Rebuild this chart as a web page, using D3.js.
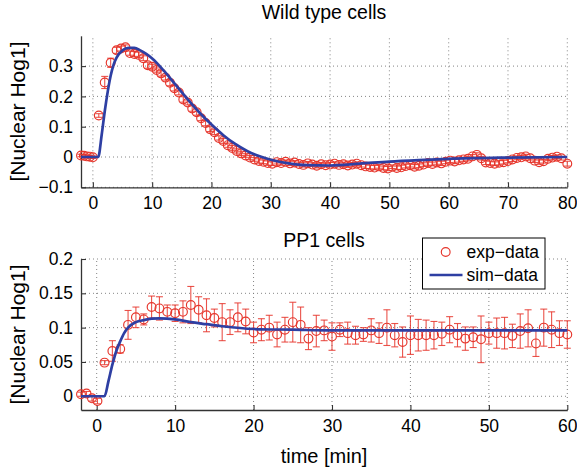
<!DOCTYPE html>
<html lang="en">
<head>
  <meta charset="UTF-8">
  <title>Nuclear Hog1</title>
  <script src="https://d3js.org/d3.v7.min.js"></script>
  <style>
    body { margin: 0; background: #fff; }
    text { font-family: "Liberation Sans", Arial, Helvetica, sans-serif; fill: #000; }
  </style>
</head>
<body>
  <div id="canvas"></div>
  <script>
    // wild type cells: experimental data (time in min)
    const wtTime = [
      -2, -1.5, -1, -0.5, 0, 1, 2, 3, 4, 4.75,
      5.5, 6.25, 7, 7.75, 8.5, 9.25, 10, 10.75, 11.5, 12.25,
      13, 13.75, 14.5, 15.25, 16, 16.75, 17.5, 18.25, 19, 19.75,
      20.5, 21.25, 22, 22.75, 23.5, 24.25, 25, 25.75, 26.5, 27.25,
      28, 28.75, 29.5, 30.25, 31, 31.75, 32.5, 33.25, 34, 34.75,
      35.5, 36.25, 37, 37.75, 38.5, 39.25, 40, 40.75, 41.5, 42.25,
      43, 43.75, 44.5, 45.25, 46, 46.75, 47.5, 48.25, 49, 49.75,
      50.5, 51.25, 52, 52.75, 53.5, 54.25, 55, 55.75, 56.5, 57.25,
      58, 58.75, 59.5, 60.25, 61, 61.75, 62.5, 63.25, 64, 64.75,
      65.5, 66.25, 67, 67.75, 68.5, 69.25, 70, 70.75, 71.5, 72.25,
      73, 73.75, 74.5, 75.25, 76, 76.75, 77.5, 78.25, 79, 80
    ];
    const wtValue = [
      0.005, 0.004, 0.002, 0.001, -0.001, 0.137, 0.246, 0.311, 0.352, 0.358,
      0.362, 0.343, 0.340, 0.337, 0.326, 0.303, 0.298, 0.287, 0.276, 0.262,
      0.245, 0.227, 0.213, 0.190, 0.180, 0.160, 0.148, 0.128, 0.112, 0.092,
      0.082, 0.063, 0.053, 0.039, 0.030, 0.020, 0.012, 0.005, -0.002, -0.008,
      -0.013, -0.016, -0.020, -0.022, -0.017, -0.020, -0.016, -0.021, -0.018, -0.023,
      -0.026, -0.021, -0.025, -0.029, -0.024, -0.027, -0.025, -0.022, -0.026, -0.024,
      -0.028, -0.025, -0.022, -0.027, -0.031, -0.033, -0.035, -0.031, -0.036, -0.038,
      -0.032, -0.036, -0.034, -0.030, -0.027, -0.032, -0.029, -0.025, -0.020, -0.023,
      -0.018, -0.021, -0.016, -0.012, -0.015, -0.011, -0.008, -0.006, 0.002, 0.007,
      -0.004, -0.018, -0.020, -0.022, -0.019, -0.017, -0.013, -0.008, -0.003, -0.001,
      0.002, -0.004, -0.012, -0.017, -0.014, -0.006, -0.002, 0.001, -0.004, -0.022
    ];
    const wtErr = [
      0.004, 0.004, 0.004, 0.004, 0.004, 0.006, 0.020, 0.015, 0.010, 0.008,
      0.008, 0.007, 0.008, 0.009, 0.008, 0.010, 0.008, 0.007, 0.009, 0.008,
      0.010, 0.009, 0.008, 0.009, 0.008, 0.009, 0.010, 0.008, 0.009, 0.008,
      0.008, 0.007, 0.008, 0.007, 0.008, 0.007, 0.007, 0.006, 0.007, 0.006,
      0.007, 0.006, 0.007, 0.006, 0.006, 0.007, 0.006, 0.007, 0.006, 0.006,
      0.007, 0.006, 0.006, 0.007, 0.006, 0.006, 0.007, 0.006, 0.006, 0.007,
      0.006, 0.007, 0.006, 0.006, 0.007, 0.006, 0.007, 0.006, 0.006, 0.007,
      0.006, 0.006, 0.007, 0.006, 0.006, 0.007, 0.006, 0.006, 0.007, 0.006,
      0.006, 0.007, 0.006, 0.006, 0.007, 0.006, 0.006, 0.007, 0.006, 0.007,
      0.006, 0.007, 0.006, 0.006, 0.007, 0.006, 0.006, 0.007, 0.006, 0.006,
      0.007, 0.006, 0.006, 0.007, 0.006, 0.006, 0.007, 0.006, 0.006, 0.008
    ];
    // wild type cells: simulation
    const wtSimTime = [-2, 0.9, 1.5, 2, 2.5, 3, 3.5, 4, 5, 6, 7, 8, 9, 10, 12, 14, 16, 18, 20, 22, 24, 26, 28, 30, 33, 36, 40, 45, 50, 55, 60, 70, 80];
    const wtSimValue = [0, 0, 0.075, 0.15, 0.215, 0.268, 0.305, 0.328, 0.352, 0.36, 0.36, 0.352, 0.34, 0.325, 0.284, 0.237, 0.19, 0.146, 0.107, 0.072, 0.043, 0.02, 0.003, -0.009, -0.021, -0.027, -0.028, -0.022, -0.015, -0.01, -0.006, -0.002, 0];

    // PP1 cells: experimental data
    const ppTime = [
      -2, -1.3, -0.6, 0.1,
      1, 2, 3, 4, 5, 6, 7, 8, 9, 10,
      11, 12, 13, 14, 15, 16, 17, 18, 19, 20,
      21, 22, 23, 24, 25, 26, 27, 28, 29, 30,
      31, 32, 33, 34, 35, 36, 37, 38, 39, 40,
      41, 42, 43, 44, 45, 46, 47, 48, 49, 50,
      51, 52, 53, 54, 55, 56, 57, 58, 59, 60
    ];
    const ppValue = [
      0.003, 0.004, -0.003, -0.007,
      0.049, 0.066, 0.069, 0.104, 0.115, 0.112, 0.130, 0.128, 0.123, 0.121,
      0.123, 0.133, 0.126, 0.118, 0.114, 0.108, 0.108, 0.115, 0.109, 0.093,
      0.097, 0.100, 0.090, 0.097, 0.108, 0.104, 0.084, 0.095, 0.096, 0.087,
      0.097, 0.092, 0.089, 0.090, 0.096, 0.092, 0.100, 0.089, 0.079, 0.089,
      0.089, 0.089, 0.089, 0.091, 0.097, 0.089, 0.084, 0.086, 0.083, 0.092,
      0.092, 0.092, 0.088, 0.095, 0.099, 0.077, 0.100, 0.097, 0.092, 0.090
    ];
    const ppErr = [
      0.003, 0.003, 0.004, 0.004,
      0.003, 0.015, 0.006, 0.021, 0.015, 0.008, 0.016, 0.017, 0.010, 0.012,
      0.016, 0.027, 0.019, 0.024, 0.013, 0.027, 0.018, 0.021, 0.018, 0.015,
      0.016, 0.018, 0.018, 0.018, 0.029, 0.026, 0.016, 0.023, 0.015, 0.020,
      0.010, 0.016, 0.013, 0.010, 0.017, 0.015, 0.026, 0.017, 0.022, 0.028,
      0.023, 0.022, 0.020, 0.017, 0.019, 0.017, 0.017, 0.015, 0.034, 0.016,
      0.022, 0.023, 0.017, 0.025, 0.027, 0.019, 0.027, 0.026, 0.018, 0.020
    ];
    // PP1 cells: simulation
    const ppSimTime = [-2, 1, 1.5, 2, 2.5, 3, 3.5, 4, 5, 6, 7, 8, 10, 12, 14, 16, 20, 25, 30, 40, 50, 60];
    const ppSimValue = [0, 0, 0.022, 0.046, 0.066, 0.08, 0.092, 0.1, 0.108, 0.111, 0.113, 0.1135, 0.112, 0.108, 0.105, 0.102, 0.098, 0.097, 0.096, 0.096, 0.096, 0.096];

    const wtXTicks = [0, 10, 20, 30, 40, 50, 60, 70, 80];
    const wtYTicks = [-0.1, 0, 0.1, 0.2, 0.3];
    const ppXTicks = [0, 10, 20, 30, 40, 50, 60];
    const ppYTicks = [0, 0.05, 0.1, 0.15, 0.2];

    const width = 577;
    const height = 472;
    const red = '#e6352b';
    const blue = '#2e3fa3';

    const svg = d3.select('#canvas')
      .append('svg')
      .attr('width', width)
      .attr('height', height);

    function fmt(v) {
      return v < 0 ? '\u2212' + d3.format('~g')(-v) : d3.format('~g')(v);
    }

    function panel(opt) {
      const x = d3.scaleLinear().domain(opt.xDomain).range([81, 567.3]);
      const y = d3.scaleLinear().domain(opt.yDomain).range([opt.bottom, opt.top]);
      const g = svg.append('g');

      // dotted grid
      g.selectAll('.gx').data(opt.xTicks).enter().append('line')
        .attr('x1', d => x(d)).attr('x2', d => x(d))
        .attr('y1', opt.bottom).attr('y2', opt.top)
        .attr('stroke', '#777').attr('stroke-width', 0.9).attr('stroke-dasharray', '1,3');
      g.selectAll('.gy').data(opt.yTicks).enter().append('line')
        .attr('x1', 81).attr('x2', 567.3)
        .attr('y1', d => y(d)).attr('y2', d => y(d))
        .attr('stroke', '#777').attr('stroke-width', 0.9).attr('stroke-dasharray', '1,3');

      // axes
      const xAxis = g.append('g')
        .attr('transform', 'translate(0,' + opt.bottom + ')')
        .call(d3.axisBottom(x).tickValues(opt.xTicks).tickSizeInner(-5).tickSizeOuter(0).tickPadding(9.5).tickFormat(fmt));
      const yAxis = g.append('g')
        .attr('transform', 'translate(81,0)')
        .call(d3.axisLeft(y).tickValues(opt.yTicks).tickSizeInner(-5).tickSizeOuter(0).tickPadding(8).tickFormat(fmt));
      [xAxis, yAxis].forEach(a => {
        a.select('.domain').attr('stroke', '#333').attr('stroke-width', 1.3);
        a.selectAll('.tick line').attr('stroke', '#333').attr('stroke-width', 1.1);
        a.selectAll('.tick text').style('font-size', '17.5px').attr('fill', '#000')
          .style('font-family', '"Liberation Sans", Arial, sans-serif');
      });

      // error bars + markers
      const pts = opt.time.map((t, i) => ({ t: t, v: opt.value[i], e: opt.err[i] }));
      const eb = g.append('g').attr('stroke', red).attr('stroke-width', 1.1).attr('stroke-opacity', 0.85);
      eb.selectAll('.bar').data(pts).enter().append('line')
        .attr('x1', d => x(d.t)).attr('x2', d => x(d.t))
        .attr('y1', d => y(d.v - d.e)).attr('y2', d => y(d.v + d.e));
      eb.selectAll('.capTop').data(pts).enter().append('line')
        .attr('x1', d => x(d.t) - 3.5).attr('x2', d => x(d.t) + 3.5)
        .attr('y1', d => y(d.v + d.e)).attr('y2', d => y(d.v + d.e));
      eb.selectAll('.capBot').data(pts).enter().append('line')
        .attr('x1', d => x(d.t) - 3.5).attr('x2', d => x(d.t) + 3.5)
        .attr('y1', d => y(d.v - d.e)).attr('y2', d => y(d.v - d.e));
      g.append('g').selectAll('circle').data(pts).enter().append('circle')
        .attr('cx', d => x(d.t)).attr('cy', d => y(d.v)).attr('r', 4.4)
        .attr('fill', 'none').attr('stroke', red).attr('stroke-width', 1.15);

      // simulation line
      const line = d3.line().x(d => x(d[0])).y(d => y(d[1])).curve(d3.curveMonotoneX);
      g.append('path')
        .datum(opt.simTime.map((t, i) => [t, opt.simValue[i]]))
        .attr('d', line)
        .attr('fill', 'none').attr('stroke', blue).attr('stroke-width', 2.7);

      // title and y label
      svg.append('text').attr('x', 324).attr('y', opt.titleY)
        .attr('text-anchor', 'middle').attr('dominant-baseline', 'central')
        .style('font-size', '19.5px').text(opt.title);
      svg.append('text')
        .attr('transform', 'translate(17,' + ((opt.top + opt.bottom) / 2) + ') rotate(-90)')
        .attr('text-anchor', 'middle').attr('dominant-baseline', 'central')
        .style('font-size', '21px').text('[Nuclear Hog1]');
    }

    panel({
      xDomain: [-2, 80], yDomain: [-0.1, 0.4], top: 35.8, bottom: 187.3,
      xTicks: wtXTicks, yTicks: wtYTicks,
      time: wtTime, value: wtValue, err: wtErr,
      simTime: wtSimTime, simValue: wtSimValue,
      title: 'Wild type cells', titleY: 12
    });
    panel({
      xDomain: [-2, 60], yDomain: [-0.02, 0.2], top: 259, bottom: 410,
      xTicks: ppXTicks, yTicks: ppYTicks,
      time: ppTime, value: ppValue, err: ppErr,
      simTime: ppSimTime, simValue: ppSimValue,
      title: 'PP1 cells', titleY: 240
    });

    svg.append('text').attr('x', 324).attr('y', 456)
      .attr('text-anchor', 'middle').attr('dominant-baseline', 'central')
      .style('font-size', '20px').text('time [min]');

    // legend
    const legend = svg.append('g').attr('id', 'legend');
    legend.append('rect')
      .attr('x', 422.5).attr('y', 238).attr('width', 122.5).attr('height', 51)
      .attr('fill', '#fff').attr('stroke', '#000').attr('stroke-width', 1);
    legend.append('circle')
      .attr('cx', 445.7).attr('cy', 252).attr('r', 4.4)
      .attr('fill', 'none').attr('stroke', red).attr('stroke-width', 1.15);
    legend.append('text').attr('x', 466.5).attr('y', 252)
      .attr('dominant-baseline', 'central').style('font-size', '17.5px').text('exp\u2212data');
    legend.append('line')
      .attr('x1', 429.5).attr('x2', 462.5).attr('y1', 275).attr('y2', 275)
      .attr('stroke', blue).attr('stroke-width', 2.7);
    legend.append('text').attr('x', 466.5).attr('y', 275)
      .attr('dominant-baseline', 'central').style('font-size', '17.5px').text('sim\u2212data');
  </script>
</body>
</html>
